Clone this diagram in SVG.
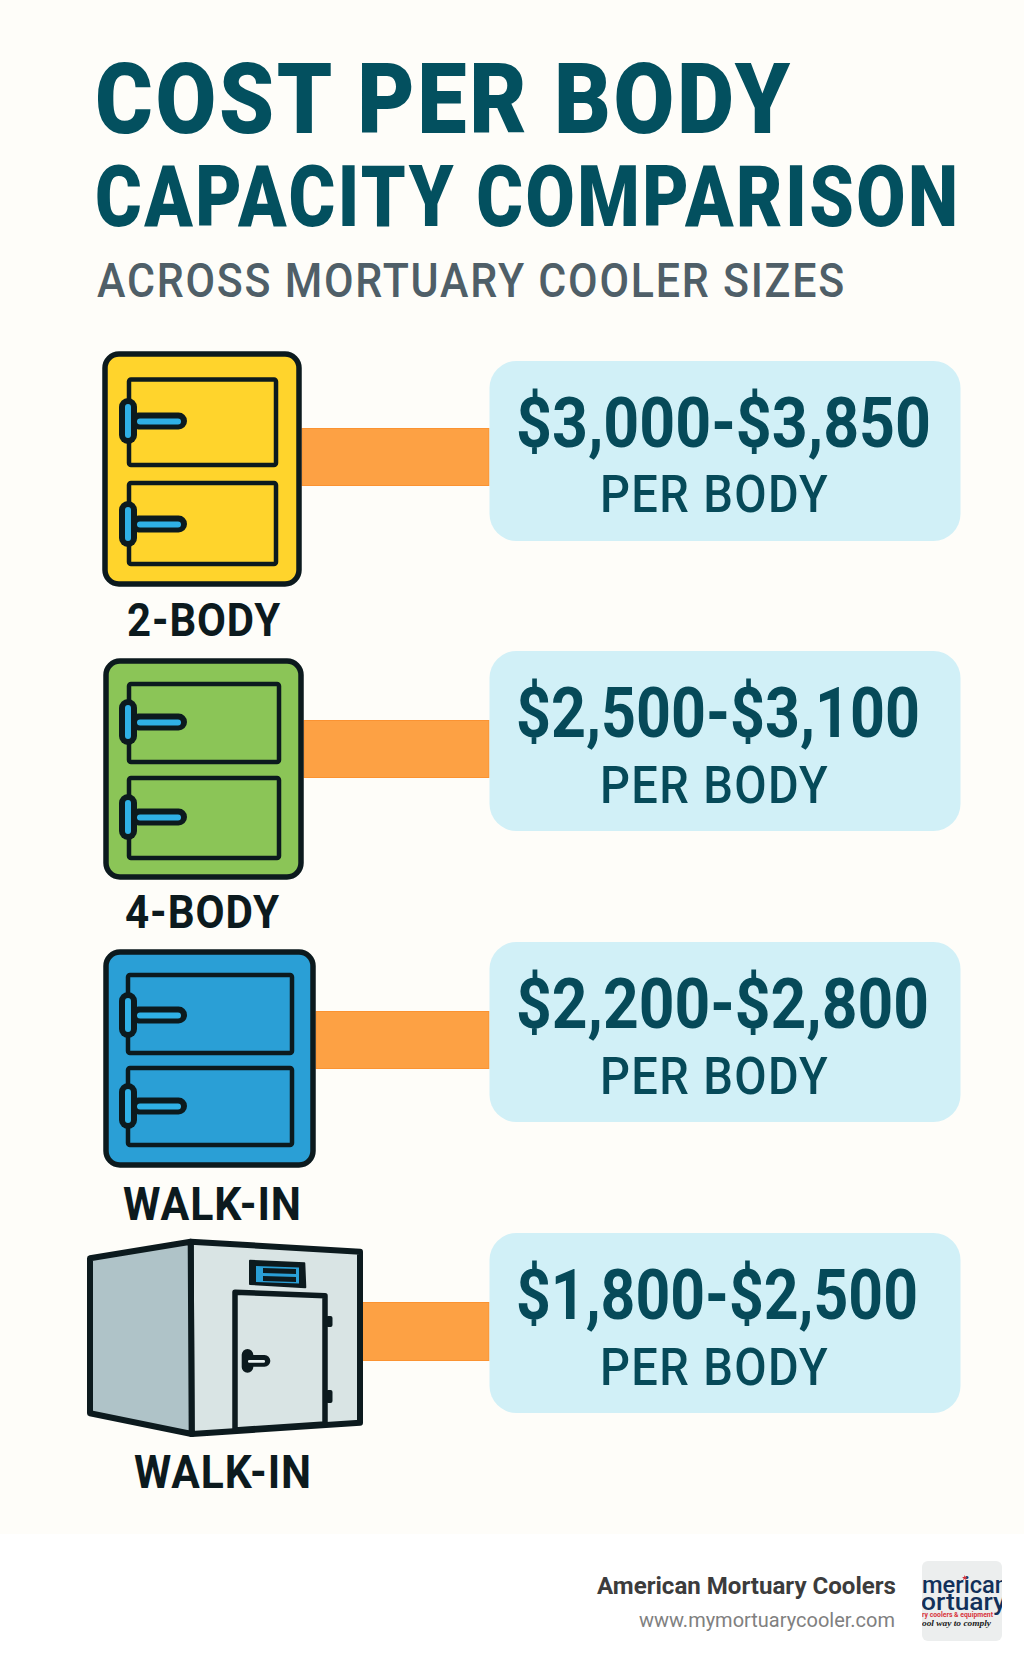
<svg xmlns="http://www.w3.org/2000/svg" width="1024" height="1666" viewBox="0 0 1024 1666">
<style>
text{font-family:Roboto,"Liberation Sans",sans-serif}
.title{fill:#03505f;font-weight:900;letter-spacing:3px}
.sub{fill:#4f5f68;font-weight:500;font-size:48px;letter-spacing:2px}
.lbl{fill:#0c1a1e;font-weight:700;font-size:46px;letter-spacing:1px}
.price{fill:#064a59;font-weight:700;font-size:70px}
.per{fill:#064a59;font-weight:500;font-size:52px;letter-spacing:1.5px}
.pill{fill:#d1f0f7}
.bar{fill:#fda144;stroke:#fb9332;stroke-width:1}
.outer{stroke:#0c1a1e;stroke-width:5.5}
.drawer{fill:none;stroke:#0c1a1e;stroke-width:4.5}
.hd{fill:#0c1a1e}
.face{stroke:#0c1a1e;stroke-width:6;stroke-linejoin:round}
</style>
<defs>
<g id="handle">
<rect x="119" y="-23" width="18" height="46" rx="9" class="hd"/>
<rect x="130" y="-8.5" width="57" height="17" rx="8.5" class="hd"/>
<rect x="125" y="-17" width="6" height="34" rx="3" fill="#2fb0e6"/>
<rect x="137" y="-2.5" width="44" height="6" rx="3" fill="#2fb0e6"/>
</g>
</defs>
<rect width="1024" height="1534" fill="#fefdf9"/>
<rect y="1534" width="1024" height="132" fill="#ffffff"/>

<g id="heading">
<text class="title" transform="translate(95 133) scale(0.85 1)" font-size="99" textLength="821" lengthAdjust="spacingAndGlyphs">COST PER BODY</text>
<text class="title" transform="translate(95 226) scale(0.8 1)" font-size="86" textLength="1082" lengthAdjust="spacingAndGlyphs">CAPACITY COMPARISON</text>
<text class="sub" x="97" y="297" textLength="749" lengthAdjust="spacingAndGlyphs">ACROSS MORTUARY COOLER SIZES</text>
</g>

<g id="connectors">
<rect class="bar" x="302" y="428.500" width="187" height="57"/>
<rect class="bar" x="304" y="720.500" width="185" height="57"/>
<rect class="bar" x="316" y="1011.500" width="173" height="57"/>
<rect class="bar" x="360" y="1302.500" width="129" height="58"/>
</g>

<g id="cooler-2-body">
<rect class="outer" x="105" y="354" width="194" height="230" rx="14" fill="#ffd42c"/>
<rect class="drawer" x="129" y="379.500" width="147" height="85.500" rx="2"/>
<rect class="drawer" x="129" y="483" width="147" height="81" rx="2"/>
<use href="#handle" y="421"/>
<use href="#handle" y="524"/>
<text class="lbl" x="127" y="636" textLength="154" lengthAdjust="spacingAndGlyphs">2-BODY</text>
</g>

<g id="cooler-4-body">
<rect class="outer" x="106" y="661" width="195" height="216" rx="14" fill="#8bc557"/>
<rect class="drawer" x="129" y="684" width="150" height="78" rx="2"/>
<rect class="drawer" x="129" y="778" width="150" height="80" rx="2"/>
<use href="#handle" y="722"/>
<use href="#handle" y="817"/>
<text class="lbl" x="125" y="928" textLength="155" lengthAdjust="spacingAndGlyphs">4-BODY</text>
</g>

<g id="cooler-walk-in-a">
<rect class="outer" x="106" y="952" width="207" height="213" rx="14" fill="#2a9fd6"/>
<rect class="drawer" x="128" y="975" width="164" height="78" rx="2"/>
<rect class="drawer" x="128" y="1068" width="164" height="77" rx="2"/>
<use href="#handle" y="1015"/>
<use href="#handle" y="1106"/>
<text class="lbl" x="123" y="1220" textLength="179" lengthAdjust="spacingAndGlyphs">WALK-IN</text>
</g>

<g id="cooler-walk-in-b">
<polygon class="face" points="190.700,1241.700 360,1251.700 360,1422.700 191.700,1434" fill="#d9e4e4"/>
<polygon class="face" points="90,1258.300 190.700,1241.700 191.700,1434 90,1413.300" fill="#afc3c8"/>
<polygon points="250,1260.700 304.300,1263.300 305.300,1287.300 250,1284" fill="#0c1a1e" stroke="#0c1a1e" stroke-width="2" stroke-linejoin="round"/>
<polygon points="256,1266 299,1267.500 299,1283.500 256,1282" fill="#2a9fd6"/>
<polygon points="263,1268 296,1269 296,1274 263,1273" fill="#0c1a1e"/>
<polygon points="263,1276 296,1277 296,1282 263,1281" fill="#0c1a1e"/>
<polygon points="235,1292.300 325,1295.700 325,1424 235,1430" fill="#d9e4e4" stroke="#0c1a1e" stroke-width="5.5" stroke-linejoin="round"/>
<rect x="326" y="1316" width="6.500" height="11" rx="2" fill="#0c1a1e"/>
<rect x="326" y="1390" width="6.500" height="13" rx="2" fill="#0c1a1e"/>
<rect x="241.700" y="1349" width="11.600" height="23.700" rx="5.800" fill="#0c1a1e"/>
<rect x="243" y="1355" width="27.300" height="11.700" rx="5.800" fill="#0c1a1e"/>
<rect x="248" y="1360" width="17" height="2.700" rx="1.300" fill="#e8f0f0"/>
<text class="lbl" x="134" y="1488" textLength="178" lengthAdjust="spacingAndGlyphs">WALK-IN</text>
</g>

<g id="price-1">
<rect class="pill" x="489.500" y="361" width="471" height="180" rx="27"/>
<text class="price" x="516" y="446.500" textLength="415" lengthAdjust="spacingAndGlyphs">$3,000-$3,850</text>
<text class="per" x="600" y="512" textLength="229" lengthAdjust="spacingAndGlyphs">PER BODY</text>
</g>
<g id="price-2">
<rect class="pill" x="489.500" y="651" width="471" height="180" rx="27"/>
<text class="price" x="516" y="737" textLength="404" lengthAdjust="spacingAndGlyphs">$2,500-$3,100</text>
<text class="per" x="600" y="803" textLength="229" lengthAdjust="spacingAndGlyphs">PER BODY</text>
</g>
<g id="price-3">
<rect class="pill" x="489.500" y="942" width="471" height="180" rx="27"/>
<text class="price" x="516" y="1028" textLength="413" lengthAdjust="spacingAndGlyphs">$2,200-$2,800</text>
<text class="per" x="600" y="1093.500" textLength="229" lengthAdjust="spacingAndGlyphs">PER BODY</text>
</g>
<g id="price-4">
<rect class="pill" x="489.500" y="1233" width="471" height="180" rx="27"/>
<text class="price" x="516" y="1319" textLength="402" lengthAdjust="spacingAndGlyphs">$1,800-$2,500</text>
<text class="per" x="600" y="1385" textLength="229" lengthAdjust="spacingAndGlyphs">PER BODY</text>
</g>

<g id="footer">
<text x="597" y="1594" font-size="23" font-weight="700" fill="#3c3c3c" textLength="299" lengthAdjust="spacingAndGlyphs">American Mortuary Coolers</text>
<text x="639" y="1627" font-size="21" fill="#808080" textLength="256" lengthAdjust="spacingAndGlyphs">www.mymortuarycooler.com</text>
</g>

<g id="logo">
<clipPath id="logoclip"><rect x="922" y="1561" width="80" height="80" rx="6"/></clipPath>
<rect x="922" y="1561" width="80" height="80" rx="6" fill="#eceeee"/>
<g clip-path="url(#logoclip)">
<text x="922" y="1592.500" font-size="23" font-weight="500" fill="#12305a" textLength="86" lengthAdjust="spacingAndGlyphs">merican</text>
<text x="921" y="1610" font-size="23" font-weight="500" fill="#12305a" textLength="85" lengthAdjust="spacingAndGlyphs">ortuary</text>
<text x="922" y="1617" font-size="7.500" font-weight="700" fill="#d8333b" textLength="71" lengthAdjust="spacingAndGlyphs">ry coolers &amp; equipment</text>
<text x="922" y="1625.500" font-size="9" font-style="italic" font-weight="700" fill="#1a1a1a" textLength="69" lengthAdjust="spacingAndGlyphs" style="font-family:'Liberation Serif',serif">ool way to comply</text>
<polygon points="964.700,1575 965.400,1577 967.400,1577 965.800,1578.200 966.400,1580.200 964.700,1579 963,1580.200 963.600,1578.200 962,1577 964,1577" fill="#d8333b"/>
</g>
</g>
</svg>
